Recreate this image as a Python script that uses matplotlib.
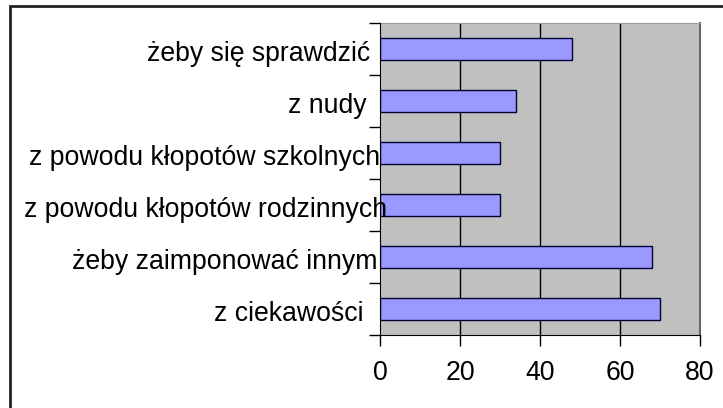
import matplotlib
matplotlib.use("Agg")
import matplotlib.pyplot as plt
from matplotlib.patches import Rectangle
from matplotlib.transforms import ScaledTranslation
import numpy as np

plt.rcParams['font.family'] = ['Liberation Sans', 'DejaVu Sans']

# bottom to top
categories = ["z ciekawości", "żeby zaimponować innym",
              "z powodu kłopotów rodzinnych", "z powodu kłopotów szkolnych",
              "z nudy", "żeby się sprawdzić"]
values = [70, 68, 30, 30, 34, 48]
xticks = [0, 20, 40, 60, 80]

# horizontal nudge of each category label, in pixels
label_shift = [-17, -3, 7, 0, -13, -10]

fig = plt.figure(figsize=(7.23, 4.08), dpi=100)
ax = fig.add_axes([380 / 723, 1 - 335 / 408, 320 / 723, 312.3 / 408])

# outer chart frame, running off the right and bottom edges
fig.patches.append(Rectangle((9.5 / 723, -0.05), 1.1, 1 - 5.7 / 408 + 0.05,
                             transform=fig.transFigure, fill=False,
                             edgecolor="#222222", linewidth=2.0, zorder=0))

ax.set_facecolor("#c0c0c0")
y = np.arange(len(categories))
ax.barh(y, values, height=0.42, color="#9999ff", edgecolor="#000033",
        linewidth=1.0, zorder=3)

ax.set_xlim(0, 80)
ax.set_ylim(-0.5, len(categories) - 0.5)
ax.set_xticks(xticks)
ax.set_xticklabels([str(t) for t in xticks], fontsize=19.2)
for t in xticks[1:-1]:
    ax.axvline(t, color="black", linewidth=1.0, zorder=1)

ax.set_yticks(y)
ax.set_yticklabels(categories, fontsize=19.2)
ax.set_yticks(np.arange(-0.5, len(categories)), minor=True)
ax.tick_params(axis="y", which="major", length=0, pad=0)
ax.tick_params(axis="y", which="minor", length=8, width=1.0, color="black")
ax.tick_params(axis="x", length=8, width=1.0, color="black", pad=10)
# long labels run into the plot area, keep them above the bars
ax.yaxis.set_zorder(4)

for lab, dx in zip(ax.get_yticklabels(), label_shift):
    lab.set_transform(lab.get_transform()
                      + ScaledTranslation(dx / 100, -2 / 100, fig.dpi_scale_trans))

ax.spines["left"].set_color("black")
ax.spines["left"].set_zorder(4)
ax.spines["bottom"].set_color("black")
ax.spines["right"].set_color("#666666")
ax.spines["right"].set_linewidth(1.5)
ax.spines["top"].set_color("#999999")

fig.savefig("out.png", dpi=100)
